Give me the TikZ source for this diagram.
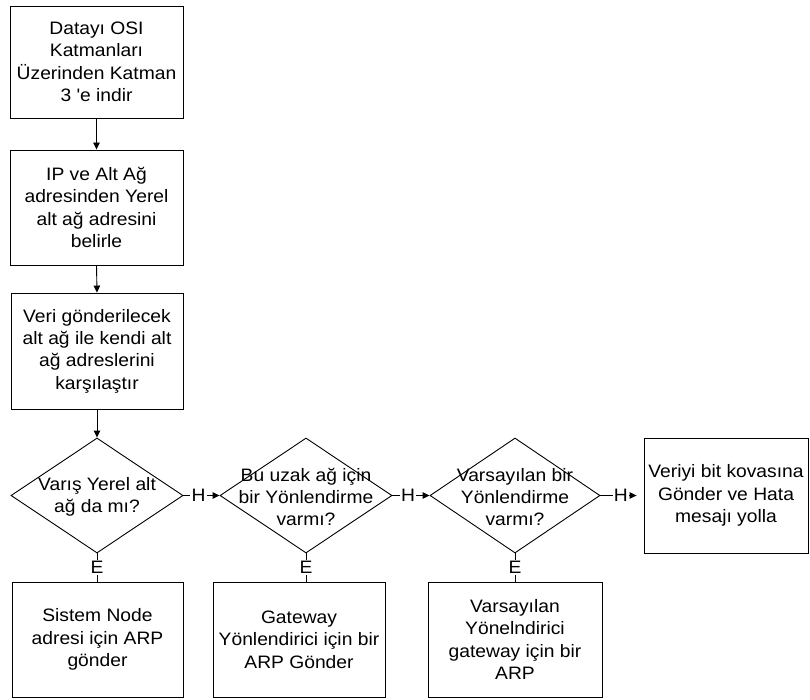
\documentclass[tikz,border=0pt]{standalone}
\usepackage{fontspec}
\setmainfont{Liberation Sans}[FakeStretch=1.07]
\usetikzlibrary{shapes.geometric,arrows.meta}
\begin{document}
\begin{tikzpicture}[x=1pt,y=-1pt,
  every node/.style={font=\fontsize{18}{22.4}\selectfont},
  boxnode/.style={draw=black, line width=0.9pt, rectangle, inner sep=0pt, align=center},
  decnode/.style={draw=black, line width=0.9pt, diamond, inner sep=0pt, aspect=1.5},
  txtnode/.style={align=center, inner sep=0pt},
  lbl/.style={fill=white, inner sep=1.2pt},
  conn/.style={line width=0.9pt},
  arr/.style={conn, -{Triangle[length=7pt,width=6.5pt]}}]
\useasboundingbox[fill=white] (0,0) rectangle (810,700);

\node[boxnode, minimum width=173pt, minimum height=112pt] (b1) at (96.5,62)
  {Datayı OSI\\Katmanları\\Üzerinden Katman\\3 \textquotesingle e indir};
\node[boxnode, minimum width=173pt, minimum height=115pt] (b2) at (96.5,207.5)
  {IP ve Alt Ağ\\adresinden Yerel\\alt ağ adresini\\belirle};
\node[boxnode, minimum width=172pt, minimum height=116pt] (b3) at (97,351)
  {Veri gönderilecek\\alt ağ ile kendi alt\\ağ adreslerini\\karşılaştır};

\node[decnode, minimum width=172pt, minimum height=115pt] (d1) at (97,495.5) {};
\node[decnode, minimum width=172pt, minimum height=115pt] (d2) at (306,495.5) {};
\node[decnode, minimum width=170pt, minimum height=115pt] (d3) at (515,495.5) {};
\node[txtnode] (t1) at (97,497) {Varış Yerel alt\\ağ da mı?};
\node[txtnode] (t2) at (306,497) {Bu uzak ağ için\\bir Yönlendirme\\varmı?};
\node[txtnode] (t3) at (515,497) {Varsayılan bir\\Yönlendirme\\varmı?};

\node[boxnode, minimum width=164pt, minimum height=115pt] (r) at (726,495.5)
  {Veriyi bit kovasına\\Gönder ve Hata\\mesajı yolla};

\node[boxnode, minimum width=171pt, minimum height=115pt] (ba) at (97.5,639.5)
  {Sistem Node\\adresi için ARP\\gönder};
\node[boxnode, minimum width=172pt, minimum height=115pt] (bb) at (299,639.5)
  {Gateway\\Yönlendirici için bir\\ARP Gönder};
\node[boxnode, minimum width=174pt, minimum height=115pt] (bc) at (515,639.5)
  {Varsayılan\\Yönelndirici\\gateway için bir\\ARP};

\draw[arr] (b1.south) -- (b2.north);
\draw[arr] (b2.south) -- (b3.north);
\draw[arr] (b3.south) -- (d1.north);

\draw[arr] (d1.east) -- node[lbl, pos=0.42] (h1) {H} (d2.west);
\draw[arr] (d2.east) -- node[lbl, pos=0.42] (h2) {H} (d3.west);
\draw[arr, shorten >=7pt] (d3.east) -- node[lbl, pos=0.47] (h3) {H} (r.west);

\draw[conn] (d1.south) -- node[lbl] (e1) {E} (d1.south |- ba.north);
\draw[conn] (d2.south) -- node[lbl] (e2) {E} (d2.south |- bb.north);
\draw[conn] (d3.south) -- node[lbl] (e3) {E} (d3.south |- bc.north);
\end{tikzpicture}
\end{document}
